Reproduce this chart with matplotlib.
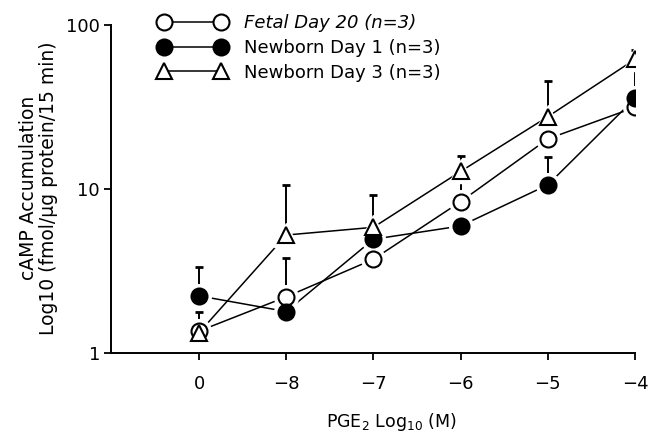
import numpy as np
import matplotlib
matplotlib.use("Agg")
import matplotlib.pyplot as plt
from matplotlib.lines import Line2D

plt.rcParams['font.family'] = ['DejaVu Sans']
plt.rcParams['mathtext.default'] = 'regular'

# PGE2 concentration (log10 M), 0 = no PGE2
doses = ['0', '\u22128', '\u22127', '\u22126', '\u22125', '\u22124']

# cAMP accumulation, fmol/ug protein/15 min (mean, upper SEM)
fetal_d20 = [1.36, 2.2, 3.73, 8.37, 20.2, 31.5]
fetal_d20_sem = [0.43, 1.6, 0.0, 4.3, 0.0, 0.0]

newborn_d1 = [2.23, 1.79, 4.94, 5.95, 10.6, 35.7]
newborn_d1_sem = [1.13, 0.0, 0.0, 2.3, 5.1, 26.0]

newborn_d3 = [1.33, 5.24, 5.84, 12.8, 27.6, 61.8]
newborn_d3_sem = [0.0, 5.4, 3.4, 3.1, 18.0, 8.6]

series = [
    ('Fetal Day 20 (n=3)', fetal_d20, fetal_d20_sem, 'o', 'white'),
    ('Newborn Day 1 (n=3)', newborn_d1, newborn_d1_sem, 'o', 'black'),
    ('Newborn Day 3 (n=3)', newborn_d3, newborn_d3_sem, '^', 'white'),
]

fig = plt.figure(figsize=(6.49, 4.46), dpi=100)
ax = fig.add_axes([111/649, 1 - 353/446, 524/649, 328/446])

x = np.arange(len(doses))
for label, vals, sem, mk, face in series:
    ax.errorbar(x, vals, yerr=[np.zeros(len(sem)), sem], fmt='none',
                ecolor='black', elinewidth=1.4, capsize=3, capthick=2,
                zorder=2)
    ax.plot(x, vals, '-', color='black', lw=1.1, zorder=1)
    # white halo so the connecting lines stop short of the symbols
    ax.plot(x, vals, linestyle='none', marker=mk, ms=17, mfc='white',
            mec='white', zorder=3)
    ax.plot(x, vals, linestyle='none', marker=mk, ms=11.5,
            mfc=face, mec='black', mew=1.5, zorder=4)

ax.set_yscale('log')
ax.set_ylim(1, 100)
ax.set_xlim(-1.01, 5)
ax.set_yticks([1, 10, 100])
ax.set_yticklabels(['1', '10', '100'])
ax.yaxis.set_minor_locator(matplotlib.ticker.NullLocator())
ax.set_xticks(x)
ax.set_xticklabels(doses)

for s in ['top', 'right']:
    ax.spines[s].set_visible(False)
ax.spines['left'].set_linewidth(1.4)
ax.spines['bottom'].set_linewidth(1.4)
ax.tick_params(axis='both', direction='out', length=5, width=1.3,
               labelsize=13)
ax.tick_params(axis='y', pad=3)
ax.tick_params(axis='x', pad=11)

ax.text(0.536, -0.21, 'PGE$_2$ Log$_{10}$ (M)', transform=ax.transAxes,
        ha='center', va='center', fontsize=12.5)
fig.text(38.5/649, 1 - 188/446,
         'cAMP Accumulation\nLog10 (fmol/\u03bcg protein/15 min)',
         rotation=90, ha='center', va='center', fontsize=13.5,
         linespacing=1.12)

leg_handles = [Line2D([], [], color='black', lw=1.1, marker=mk, ms=11.5,
                      mfc=face, mec='black', mew=1.5)
               for _, _, _, mk, face in series]
leg = fig.legend(leg_handles, [s[0] for s in series], loc='upper left',
                 bbox_to_anchor=(150/649, 1 - 5/446), frameon=False,
                 fontsize=13, numpoints=2, handlelength=3.75,
                 handletextpad=0.95, labelspacing=0.38, borderpad=0)
leg.get_texts()[0].set_fontstyle('italic')

fig.savefig('out.png', dpi=100)
